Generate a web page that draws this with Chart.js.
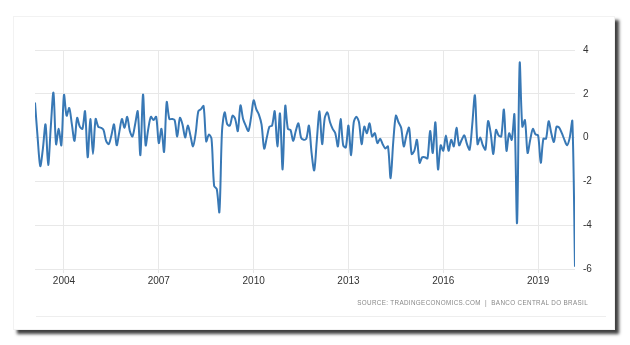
<!DOCTYPE html>
<html>
<head>
<meta charset="utf-8">
<script src="https://cdn.jsdelivr.net/npm/chart.js@4"></script>
<style>
  html, body { margin: 0; padding: 0; background: #fff; }
  body { width: 630px; height: 345px; position: relative; overflow: hidden; font-family: 'Liberation Sans', Arial, sans-serif; }
  .card { position: absolute; left: 13px; top: 16px; width: 600px; height: 312px; background: #fff;
          border: 1px solid #f2f2f2; box-shadow: 4px 4px 3px rgba(0,0,0,0.75); }
  #chart { position: absolute; left: 0; top: 0; }
  .source { position: absolute; right: 42px; top: 299px; font-size: 6.3px; color: #888; letter-spacing: 0.35px; white-space: nowrap; }
  .sep { position: absolute; left: 36px; top: 316px; width: 570px; height: 1px; background: #eee; }
</style>
</head>
<body>
<div class="card"></div>
<canvas id="chart" width="630" height="345"></canvas>
<div class="source">SOURCE: TRADINGECONOMICS.COM &nbsp;| &nbsp;BANCO CENTRAL DO BRASIL</div>
<div class="sep"></div>
<script>
// first value is Feb 2003, monthly through Mar 2020
const startYear = 2003;
const startMonth = 2;
const tickYears = [2004, 2007, 2010, 2013, 2016, 2019];
const yMin = -6, yMax = 4, yStep = 2;

const monthlyChange = [
    // 2003 (Feb-Dec)
    1.6, 0.0, -1.3, -0.5, 0.6, -1.25, 0.5, 2.05, -0.3, 0.4, -0.35,
    // 2004
    1.95, 1.0, 1.35, 0.6, -0.15, 0.9, 0.5, 0.4, 1.2, -0.9, 0.85, -0.75,
    // 2005
    0.85, 0.5, 0.45, 0.35, -0.15, -0.3, 0.1, 0.6, -0.35, 0.25, 0.85, 0.45,
    // 2006
    0.95, 0.3, 0.05, 0.6, 1.2, -0.8, 1.97, -0.35, 0.4, 0.95, 0.8, 0.95,
    // 2007
    -0.25, 0.4, -0.65, 1.62, 0.85, 0.85, 0.8, 0.05, 0.9, 0.6, 0.0, 0.55,
    // 2008
    0.1, -0.4, 0.2, 1.2, 1.3, 1.44, -0.17, 0.14, -0.05, -2.2, -2.35, -3.4,
    // 2009
    0.3, 1.15, 0.6, 0.55, 1.0, 0.85, 0.3, 1.47, 0.85, 0.55, 0.3, 0.9,
    // 2010
    1.7, 1.3, 1.05, 0.6, -0.5, 0.0, 0.5, 0.55, 1.2, -0.4, 1.1, -1.45,
    // 2011
    1.45, 0.4, 0.35, -0.15, 0.3, 0.65, 0.0, -0.1, -0.05, 0.55, -0.7, -1.5,
    // 2012
    -0.1, 1.2, -0.3, 0.9, 1.15, 0.7, 0.4, 0.2, -0.4, 0.85, -0.35, -0.45,
    // 2013
    0.55, -0.8, 0.7, 0.95, 0.7, -0.3, 0.5, 0.2, 0.65, 0.05, 0.2, -0.25,
    // 2014
    -0.05, -0.3, -0.5, -0.4, -1.85, -0.2, 1.0, 0.7, 0.45, -0.4, 0.1, 0.45,
    // 2015
    -0.75, -0.6, -0.1, -1.15, -0.9, -0.9, -0.95, 0.3, -0.7, 0.7, -1.45, -0.35,
    // 2016
    -0.6, 0.1, -0.6, -0.1, -0.4, 0.45, -0.35, -0.1, 0.1, -0.3, -0.55, 0.6,
    // 2017
    1.93, -0.3, 0.0, -0.35, -0.55, 0.75, 0.2, -0.75, 0.35, 0.1, 0.05, 1.28,
    // 2018
    -0.6, 0.2, -0.1, 1.05, -3.9, 3.4, 0.5, 0.8, -0.7, -0.1, 0.4, 0.15,
    // 2019
    0.1, -1.15, -0.05, -0.05, 0.75, 0.2, -0.2, 0.5, 0.45, 0.2, -0.1, -0.35,
    // 2020 (Jan-Mar)
    0.0, 0.75, -5.9
];

const xStart = startYear + (startMonth - 1) / 12;
const xEnd = xStart + (monthlyChange.length - 1) / 12;
const points = monthlyChange.map((v, i) => ({ x: xStart + i / 12, y: v }));

Chart.defaults.font.family = "'Liberation Sans', Arial, sans-serif";
Chart.defaults.color = '#333';

const gridColor = '#e8e8e8';

new Chart(document.getElementById('chart'), {
    type: 'line',
    data: {
        datasets: [{
            data: points,
            borderColor: '#3878b5',
            borderWidth: 2,
            pointRadius: 0,
            tension: 0.3,
            fill: false
        }]
    },
    options: {
        responsive: false,
        animation: false,
        layout: { padding: { left: 35, top: 50, right: 30, bottom: 56 } },
        plugins: { legend: { display: false }, tooltip: { enabled: false } },
        scales: {
            x: {
                type: 'linear',
                min: xStart,
                max: xEnd,
                afterBuildTicks: scale => { scale.ticks = tickYears.map(v => ({ value: v })); },
                afterFit: scale => { scale.height = 20; },
                ticks: { font: { size: 10 }, padding: 2, callback: v => String(v) },
                grid: { color: gridColor, tickLength: 4 },
                border: { display: false }
            },
            y: {
                position: 'right',
                min: yMin,
                max: yMax,
                afterFit: scale => { scale.width = 25; },
                ticks: { stepSize: yStep, font: { size: 10 }, padding: 8 },
                grid: { color: gridColor, drawTicks: false },
                border: { display: false }
            }
        }
    }
});
</script>
</body>
</html>
